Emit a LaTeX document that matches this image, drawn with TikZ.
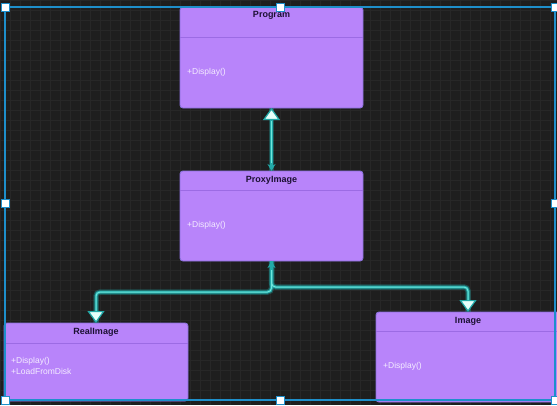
\documentclass[tikz,border=0pt]{standalone}
\usepackage{fontspec}
\setmainfont{Liberation Sans}
\usetikzlibrary{arrows.meta}

\definecolor{canvas}{HTML}{1E1E1E}
\definecolor{gridc}{HTML}{272727}
\definecolor{boxfill}{HTML}{B884FA}
\definecolor{boxline}{HTML}{8A70DC}
\definecolor{sepc}{HTML}{9C6BE4}
\definecolor{titlec}{HTML}{1C1033}
\definecolor{methodc}{HTML}{F4ECFF}
\definecolor{linkc}{HTML}{22A9A8}
\definecolor{linkcore}{HTML}{6FE6DC}
\definecolor{tipfill}{HTML}{E6FFFB}
\definecolor{selc}{HTML}{1E8FCB}

\tikzset{
  gridline/.style={draw=gridc, line width=0.5pt},
  umlbox/.style={draw=boxline, fill=boxfill, line width=0.9pt, rounded corners=3pt,
    inner sep=0pt, outer sep=0pt, anchor=north west},
  sepline/.style={draw=sepc, line width=0.8pt},
  titletext/.style={font=\fontsize{9}{10}\selectfont\bfseries, text=titlec, inner sep=0pt},
  methodtext/.style={font=\fontsize{8.5}{11}\selectfont, text=methodc, inner sep=0pt,
    anchor=west, align=left},
  link/.style={draw=linkc, line width=3pt, rounded corners=4pt},
  linkglow/.style={draw=linkc, line width=5.5pt, opacity=0.35, rounded corners=4pt},
  linkinner/.style={draw=linkcore, line width=1pt, rounded corners=4pt},
  bigtip/.style={-{Triangle[width=17pt,length=12pt,fill=tipfill,line width=1.2pt]}},
  smalltip/.style={-{Stealth[width=8pt,length=7pt]}},
  selline/.style={draw=selc, line width=1.3pt},
  handle/.style={draw=selc, fill=white, line width=1pt, minimum size=8pt,
    inner sep=0pt, outer sep=0pt},
}

\begin{document}
\begin{tikzpicture}[x=1pt, y=-1pt]
  % canvas and background grid
  \fill[canvas] (0,0) rectangle (557,405);
  \useasboundingbox (0,0) rectangle (557,405);
  \foreach \gx in {0,10,...,550} \draw[gridline] (\gx,0) -- (\gx,405);
  \foreach \gy in {0,10,...,400} \draw[gridline] (0,\gy) -- (557,\gy);

  % class boxes
  \node[umlbox, minimum width=183pt, minimum height=101pt] (prog)  at (180,7)   {};
  \node[umlbox, minimum width=183pt, minimum height=90pt]  (proxy) at (180,171) {};
  \node[umlbox, minimum width=184pt, minimum height=78pt]  (real)  at (4,323)   {};
  \node[umlbox, minimum width=184pt, minimum height=90pt]  (img)   at (376,312) {};

  % header separators
  \draw[sepline] ([yshift=-30pt]prog.north west)  -- ([yshift=-30pt]prog.north east);
  \draw[sepline] ([yshift=-19pt]proxy.north west) -- ([yshift=-19pt]proxy.north east);
  \draw[sepline] ([yshift=-20pt]real.north west)  -- ([yshift=-20pt]real.north east);
  \draw[sepline] ([yshift=-19pt]img.north west)   -- ([yshift=-19pt]img.north east);

  % class names
  \node[titletext] (progT)  at ([yshift=-8.5pt]prog.north)  {Program};
  \node[titletext] (proxyT) at ([yshift=-9pt]proxy.north)   {ProxyImage};
  \node[titletext] (realT)  at ([yshift=-9pt]real.north)    {RealImage};
  \node[titletext] (imgT)   at ([yshift=-9pt]img.north)     {Image};

  % operations
  \node[methodtext] (progM)  at (187,72)    {+Display()};
  \node[methodtext] (proxyM) at (187,225)   {+Display()};
  \node[methodtext] (realM)  at (11,365.5)  {+Display()\\+LoadFromDisk};
  \node[methodtext] (imgM)   at (383,366)   {+Display()};

  % connector glow
  \draw[linkglow] (prog.south) -- (proxy.north);
  \draw[linkglow] (proxy.south) -- ++(0,31) -| (real.north);
  \draw[linkglow] (proxy.south) -- ++(0,26) -| (img.north);

  % connectors
  \draw[link, smalltip] ([yshift=-14pt]prog.south) -- (proxy.north);
  \draw[link, bigtip]   ([yshift=-14pt]prog.south) -- (prog.south);
  \draw[link, smalltip] ([yshift=-12pt]proxy.south) -- (proxy.south);
  \draw[link, bigtip]   (proxy.south) -- ++(0,31) -| (real.north);
  \draw[link, bigtip]   (proxy.south) -- ++(0,26) -| (img.north);

  % bright core of the connectors
  \draw[linkinner, shorten <=13pt, shorten >=8pt] (prog.south) -- (proxy.north);
  \draw[linkinner, shorten <=9pt, shorten >=12pt] (proxy.south) -- ++(0,31) -| (real.north);
  \draw[linkinner, shorten <=9pt, shorten >=12pt] (proxy.south) -- ++(0,26) -| (img.north);

  % selection frame with handles
  \node[handle] (hTL) at (5,7)     {};
  \node[handle] (hTM) at (280,7)   {};
  \node[handle] (hTR) at (555,7)   {};
  \node[handle] (hML) at (5,203)   {};
  \node[handle] (hMR) at (555,203) {};
  \node[handle] (hBL) at (5,400)   {};
  \node[handle] (hBM) at (280,400) {};
  \node[handle] (hBR) at (555,400) {};
  \draw[selline] (hTL.center) rectangle (hBR.center);
  \foreach \h in {hTL,hTM,hTR,hML,hMR,hBL,hBM,hBR}
    \node[handle] at (\h.center) {};
\end{tikzpicture}
\end{document}
